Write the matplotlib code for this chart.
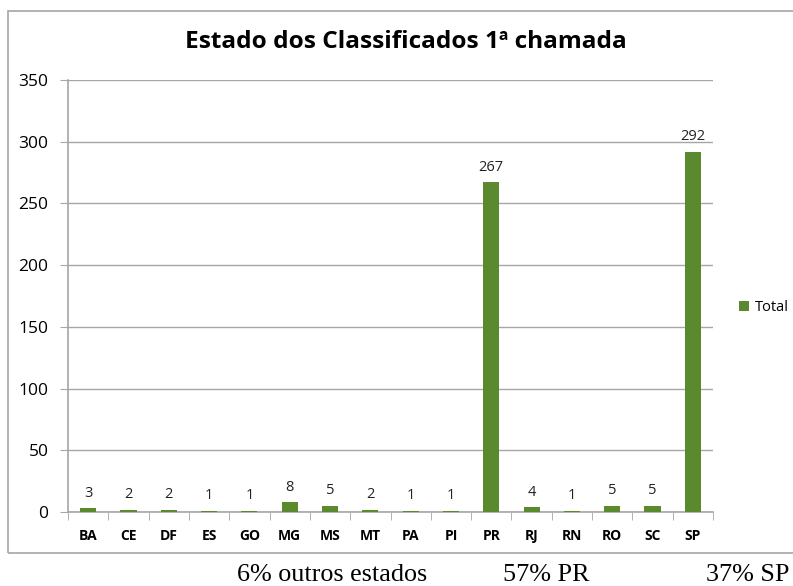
import matplotlib.pyplot as plt
from matplotlib.patches import Rectangle

estados = ["BA", "CE", "DF", "ES", "GO", "MG", "MS", "MT", "PA", "PI",
           "PR", "RJ", "RN", "RO", "SC", "SP"]
total = [3, 2, 2, 1, 1, 8, 5, 2, 1, 1, 267, 4, 1, 5, 5, 292]
resumo = ["6% outros estados", "57% PR", "37% SP"]

verde = "#5B8A2E"
cinza = "#A6A6A6"

fig = plt.figure(figsize=(7.93, 5.86), dpi=100)
W, H = 793, 586

# moldura do grafico (cortada na direita)
fig.patches.append(Rectangle((8 / W, 1 - 553 / H), 800 / W, 542 / H,
                             transform=fig.transFigure, fill=False,
                             edgecolor=cinza, linewidth=1.2))

ax = fig.add_axes([68 / W, 1 - 512 / H, 645 / W, 432 / H])
x = range(len(estados))
bars = ax.bar(x, total, width=0.4, color=verde, label="Total", zorder=3)

for b, v in zip(bars, total):
    ax.text(b.get_x() + b.get_width() / 2, v + 6, str(v), ha="center",
            va="bottom", fontsize=10.5, family="Open Sans", color="#222222")

ax.set_xlim(-0.5, len(estados) - 0.5)
ax.set_ylim(0, 350)
ax.set_yticks(range(0, 351, 50))
ax.yaxis.grid(True, color=cinza, linewidth=1, zorder=0)
ax.set_xticks(x)
ax.set_xticklabels(estados, fontweight="bold", fontsize=10, family="Open Sans")
ax.set_xticks([i + 0.5 for i in range(-1, len(estados))], minor=True)
ax.tick_params(axis="x", which="major", length=0, pad=12)
ax.tick_params(axis="x", which="minor", length=6, color=cinza)
ax.tick_params(axis="y", length=6, color=cinza, labelsize=12.5, pad=8)
for lbl in ax.get_yticklabels():
    lbl.set_family("Open Sans")
for s in ["top", "right"]:
    ax.spines[s].set_visible(False)
for s in ["left", "bottom"]:
    ax.spines[s].set_color(cinza)
    ax.spines[s].set_linewidth(1.2)

fig.text(406 / W, 1 - 42 / H, "Estado dos Classificados 1ª chamada",
         ha="center", va="center", fontsize=17.6, fontweight="bold", family="Open Sans")

ax.legend(loc="center left", bbox_to_anchor=(1.02, 0.473), frameon=False,
          handlelength=0.7, handleheight=0.7, handletextpad=0.4,
          prop={"family": "Open Sans", "size": 10.5})

for xpos, t in zip([237, 503, 706], resumo):
    fig.text(xpos / W, 1 - 575 / H, t, ha="left", va="center",
             fontsize=18.8, family="Liberation Serif")

fig.savefig("out.png", dpi=100)
